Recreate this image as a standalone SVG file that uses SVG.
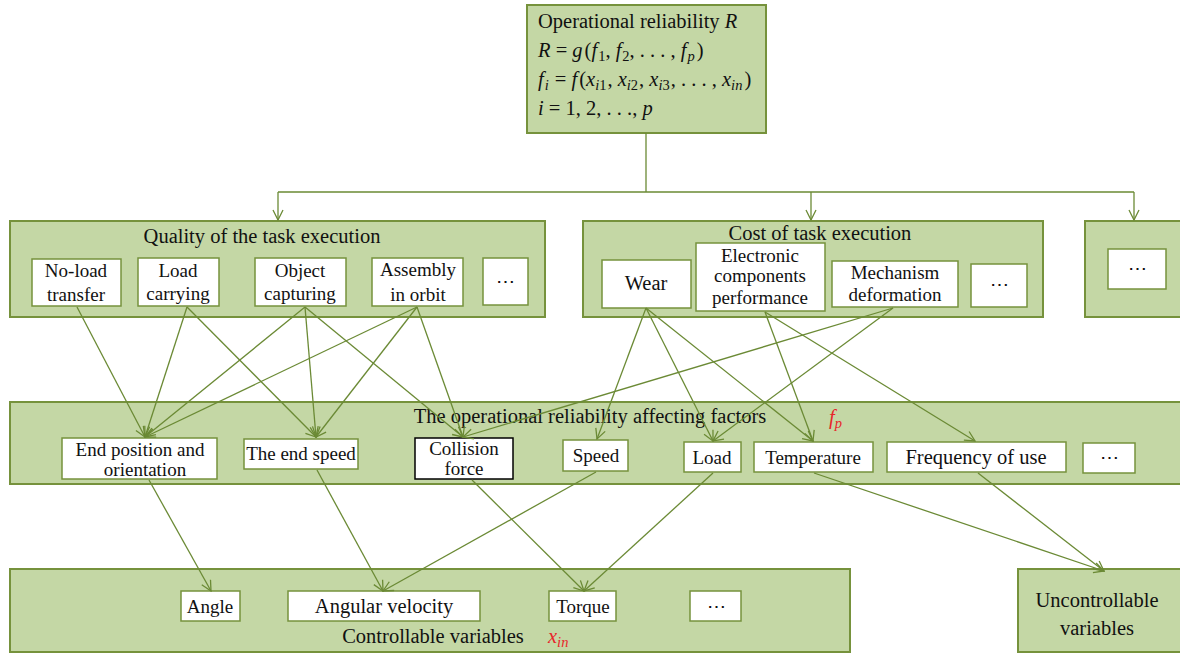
<svg xmlns="http://www.w3.org/2000/svg" width="1180" height="654" viewBox="0 0 1180 654">
<style>
.grp{fill:#c4d7a5;stroke:#76923c;stroke-width:2}
.box{fill:#ffffff;stroke:#76923c;stroke-width:1.5}
.bbox{fill:#ffffff;stroke:#000000;stroke-width:1.5}
text{font-family:"Liberation Serif","DejaVu Serif",serif;font-size:19px;fill:#111}
.t{font-size:20.5px}
.c{text-anchor:middle}
.i{font-style:italic}
.red{fill:#e8262a;font-style:italic}
.ln{fill:none;stroke:#6b8a35;stroke-width:1.3}
</style>
<defs>
<marker id="ah" viewBox="0 0 12 12" refX="11" refY="6" markerWidth="12" markerHeight="12" markerUnits="userSpaceOnUse" orient="auto">
<path d="M1,1 L11,6 L1,11" fill="none" stroke="#6b8a35" stroke-width="1.3"/>
</marker>
</defs>

<g id="top">
<rect class="grp" x="527" y="5" width="239" height="128"/>
<text class="t" x="538" y="28">Operational reliability <tspan class="i">R</tspan></text>
<text class="t" x="538" y="57"><tspan class="i">R</tspan> = <tspan class="i">g</tspan><tspan dx="2">(</tspan><tspan class="i">f</tspan><tspan font-size="14.5" dx="1" dy="4">1</tspan><tspan dy="-4">, </tspan><tspan class="i">f</tspan><tspan font-size="14.5" dx="1" dy="4">2</tspan><tspan dy="-4">, . . . , </tspan><tspan class="i">f</tspan><tspan class="i" font-size="14.5" dx="1" dy="4">p</tspan><tspan dx="2" dy="-4">)</tspan></text>
<text class="t" x="538" y="86"><tspan class="i">f</tspan><tspan class="i" font-size="14.5" dx="1" dy="4">i</tspan><tspan dx="1" dy="-4"> = </tspan><tspan class="i">f</tspan><tspan dx="2">(</tspan><tspan class="i">x</tspan><tspan class="i" font-size="14.5" dy="4">i</tspan><tspan font-size="14.5">1</tspan><tspan dx="1" dy="-4">, </tspan><tspan class="i">x</tspan><tspan class="i" font-size="14.5" dy="4">i</tspan><tspan font-size="14.5">2</tspan><tspan dx="1" dy="-4">, </tspan><tspan class="i">x</tspan><tspan class="i" font-size="14.5" dy="4">i</tspan><tspan font-size="14.5">3</tspan><tspan dx="1" dy="-4">, . . . , </tspan><tspan class="i">x</tspan><tspan class="i" font-size="14.5" dy="4">in</tspan><tspan dx="2" dy="-4">)</tspan></text>
<text class="t" x="538" y="115"><tspan class="i">i</tspan> = 1, 2, . . ., <tspan class="i">p</tspan></text>
</g>

<g id="quality">
<rect class="grp" x="10" y="221" width="535" height="96"/>
<text class="c t" x="262" y="243">Quality of the task execution</text>
</g>
<g id="noload"><rect class="box" x="32" y="259" width="89" height="47"/><text class="c" x="76" y="277">No-load</text><text class="c" x="76" y="301">transfer</text></g>
<g id="loadcarrying"><rect class="box" x="138" y="258" width="81" height="48"/><text class="c" x="178" y="277">Load</text><text class="c" x="178" y="300">carrying</text></g>
<g id="objectcapturing"><rect class="box" x="255" y="258" width="91" height="48"/><text class="c" x="300" y="277">Object</text><text class="c" x="300" y="300">capturing</text></g>
<g id="assembly"><rect class="box" x="372" y="258" width="91" height="48"/><text class="c" x="418" y="276">Assembly</text><text class="c" x="418" y="301">in orbit</text></g>
<g id="qdots"><rect class="box" x="483" y="258" width="45" height="47"/><text class="c" x="505" y="288">⋯</text></g>

<g id="cost">
<rect class="grp" x="583" y="221" width="460" height="96"/>
<text class="c t" x="820" y="240">Cost of task execution</text>
</g>
<g id="wear"><rect class="box" x="602" y="260" width="89" height="48"/><text class="c t" x="646" y="290">Wear</text></g>
<g id="electronic"><rect class="box" x="696" y="243" width="129" height="68"/><text class="c" x="760" y="262">Electronic</text><text class="c" x="760" y="282">components</text><text class="c" x="760" y="304">performance</text></g>
<g id="mechanism"><rect class="box" x="832" y="261" width="126" height="46"/><text class="c" x="895" y="279">Mechanism</text><text class="c" x="895" y="301">deformation</text></g>
<g id="cdots"><rect class="box" x="971" y="264" width="56" height="43"/><text class="c" x="999" y="291">⋯</text></g>

<g id="other">
<rect class="grp" x="1085" y="221" width="105" height="96"/>
<rect class="box" x="1108" y="249" width="58" height="40"/><text class="c" x="1137" y="275">⋯</text>
</g>

<g id="factors">
<rect class="grp" x="10" y="402" width="1180" height="82"/>
<text class="c t" x="590" y="423">The operational reliability affecting factors</text>
<text class="red t" x="829" y="424">f<tspan font-size="14.5" dy="4">p</tspan></text>
</g>
<g id="endpos"><rect class="box" x="62" y="438" width="155" height="41"/><text class="c" x="140" y="456">End position and</text><text class="c" x="145" y="476">orientation</text></g>
<g id="endspeed"><rect class="box" x="244" y="439" width="114" height="30"/><text class="c" x="301" y="460">The end speed</text></g>
<g id="collision"><rect class="bbox" x="415" y="438" width="98" height="41"/><text class="c" x="464" y="455">Collision</text><text class="c" x="464" y="475">force</text></g>
<g id="speed"><rect class="box" x="563" y="440" width="65" height="31"/><text class="c" x="596" y="462">Speed</text></g>
<g id="load"><rect class="box" x="684" y="442" width="57" height="30"/><text class="c" x="712" y="464">Load</text></g>
<g id="temperature"><rect class="box" x="754" y="442" width="119" height="30"/><text class="c" x="813" y="464">Temperature</text></g>
<g id="frequency"><rect class="box" x="887" y="442" width="179" height="30"/><text class="c t" x="976" y="464">Frequency of use</text></g>
<g id="fdots"><rect class="box" x="1083" y="443" width="52" height="30"/><text class="c" x="1109" y="464">⋯</text></g>

<g id="controllable">
<rect class="grp" x="10" y="569" width="840" height="83"/>
<text class="c t" x="433" y="643">Controllable variables</text>
<text class="red t" x="548" y="643">x<tspan font-size="14.5" dy="4">in</tspan></text>
</g>
<g id="angle"><rect class="box" x="181" y="591" width="59" height="30"/><text class="c" x="210" y="613">Angle</text></g>
<g id="angvel"><rect class="box" x="288" y="591" width="192" height="30"/><text class="c t" x="384" y="613">Angular velocity</text></g>
<g id="torque"><rect class="box" x="549" y="591" width="67" height="30"/><text class="c" x="583" y="613">Torque</text></g>
<g id="vdots"><rect class="box" x="690" y="591" width="51" height="30"/><text class="c" x="716" y="613">⋯</text></g>

<g id="uncontrollable">
<rect class="grp" x="1018" y="569" width="172" height="83"/>
<text class="c t" x="1097" y="607">Uncontrollable</text>
<text class="c t" x="1097" y="635">variables</text>
</g>

<g id="connectors">
<path class="ln" d="M646,133 V192 M278,192 H1134"/>
<path class="ln" d="M278,192 V220" marker-end="url(#ah)"/>
<path class="ln" d="M811,192 V220" marker-end="url(#ah)"/>
<path class="ln" d="M1134,192 V220" marker-end="url(#ah)"/>

<path class="ln" d="M77,307 L145,437" marker-end="url(#ah)"/>
<path class="ln" d="M187,307 L145,437" marker-end="url(#ah)"/>
<path class="ln" d="M187,307 L316,437" marker-end="url(#ah)"/>
<path class="ln" d="M305,307 L145,437" marker-end="url(#ah)"/>
<path class="ln" d="M305,307 L316,437" marker-end="url(#ah)"/>
<path class="ln" d="M305,307 L463,437" marker-end="url(#ah)"/>
<path class="ln" d="M417,307 L145,437" marker-end="url(#ah)"/>
<path class="ln" d="M417,307 L316,437" marker-end="url(#ah)"/>
<path class="ln" d="M417,307 L463,437" marker-end="url(#ah)"/>

<path class="ln" d="M646,308 L597,439" marker-end="url(#ah)"/>
<path class="ln" d="M646,308 L713,441" marker-end="url(#ah)"/>
<path class="ln" d="M646,308 L813,441" marker-end="url(#ah)"/>
<path class="ln" d="M765,312 L813,441" marker-end="url(#ah)"/>
<path class="ln" d="M765,312 L975,441" marker-end="url(#ah)"/>
<path class="ln" d="M893,308 L713,441" marker-end="url(#ah)"/>
<path class="ln" d="M893,308 L463,437" marker-end="url(#ah)"/>

<path class="ln" d="M149,480 L211,591" marker-end="url(#ah)"/>
<path class="ln" d="M317,470 L383,591" marker-end="url(#ah)"/>
<path class="ln" d="M596,472 L383,591" marker-end="url(#ah)"/>
<path class="ln" d="M472,480 L584,591" marker-end="url(#ah)"/>
<path class="ln" d="M713,473 L584,591" marker-end="url(#ah)"/>
<path class="ln" d="M814,473 L1104,571" marker-end="url(#ah)"/>
<path class="ln" d="M978,473 L1104,571" marker-end="url(#ah)"/>
</g>
</svg>
